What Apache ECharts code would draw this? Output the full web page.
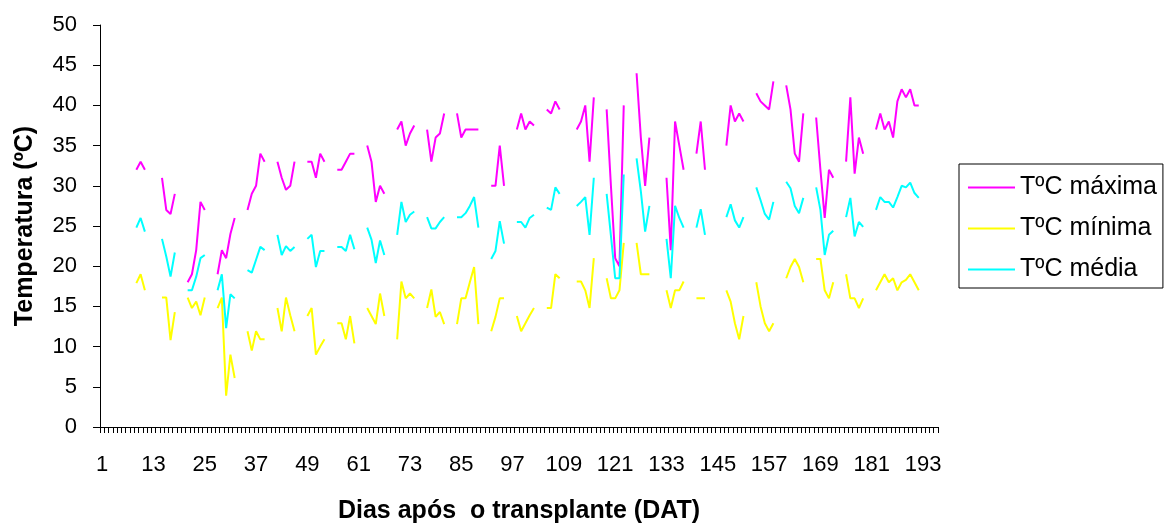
<!DOCTYPE html>
<html>
<head>
<meta charset="utf-8">
<script src="https://cdn.jsdelivr.net/npm/echarts@6/dist/echarts.min.js"></script>
<style>
  html, body { margin: 0; padding: 0; background: #fff; }
  #chart { width: 1166px; height: 524px; }
</style>
</head>
<body>
<div id="chart"></div>
<script>
const _ = null;

// Days after transplant (categories 1..196)
const days = Array.from({ length: 196 }, (v, i) => String(i + 1));

const seriesNames = ['TºC máxima', 'TºC mínima', 'TºC média'];

const tMaxima = [
  _,_,_,_,_,_,_,_,
  32,33,32,_,_,_,
  31,27,26.5,29,_,_,
  18,19,22,28,27,_,_,
  19,22,21,24,26,_,_,
  27,29,30,34,33,_,_,
  33,31,29.5,30,33,_,_,
  33,33,31,34,33,_,_,
  32,32,33,34,34,_,_,
  35,33,28,30,29,_,_,
  37,38,35,36.5,37.5,_,_,
  37,33,36,36.5,39,_,_,
  39,36,37,37,37,37,_,_,
  30,30,35,30,_,_,
  37,39,37,38,37.5,_,_,
  39.5,39,40.5,39.5,_,_,_,
  37,38,40,33,41,_,_,
  39.5,30,21,20,40,_,_,
  44,36,30,36,_,_,_,
  31,22,38,35,32,_,_,
  34,38,32,_,_,_,_,
  35,40,38,39,38,_,_,
  41.5,40.5,40,39.5,43,_,_,
  42.5,39.5,34,33,39,_,_,
  38.5,32,26,32,31,_,_,
  33,41,31.5,36,34,_,_,
  37,39,37,38,36,40.5,42,41,42,40,40,
  _,_,_,_
];

const tMinima = [
  _,_,_,_,_,_,_,_,
  17.9,19,17,_,_,_,
  16.1,16.1,10.8,14.3,_,_,
  16.1,14.8,15.6,13.9,16.1,_,_,
  14.8,16.1,3.9,9,6.1,_,_,
  11.9,9.5,11.9,10.9,10.9,_,_,
  14.8,11.9,16.1,13.9,11.9,_,_,
  13.8,14.8,9,10,10.9,_,_,
  12.9,12.9,10.9,13.8,10.4,_,_,
  14.8,13.8,12.8,16.6,13.8,_,_,
  10.9,18.1,16,16.6,16,_,_,
  14.8,17.1,13.7,14.3,12.8,_,_,
  12.8,16,16,18,19.9,12.8,_,_,
  11.9,13.7,16,16,_,_,
  13.8,11.9,12.9,13.9,14.8,_,_,
  14.8,14.8,19,18.5,_,_,_,
  18.1,18.1,17,14.8,21,_,_,
  18.5,16,16,17,22.9,_,_,
  22.9,19,19,19,_,_,_,
  17,14.8,17,17,18.1,_,_,
  16,16,16,_,_,_,_,
  17,15.6,12.9,10.9,13.8,_,_,
  18,15,12.9,11.9,12.9,_,_,
  18.5,19.9,20.9,19.9,18,_,_,
  20.9,20.9,17,16,18,_,_,
  19,16,16,14.8,16,_,_,
  17,18,19,18,18.5,17,18,18.3,19,18,17,
  _,_,_,_
];

const tMedia = [
  _,_,_,_,_,_,_,_,
  24.8,26,24.3,_,_,_,
  23.4,21.2,18.7,21.7,_,_,
  17,17,18.7,21,21.4,_,_,
  17,19,12.3,16.5,16,_,_,
  19.5,19.2,20.8,22.4,22,_,_,
  23.9,21.4,22.5,21.9,22.4,_,_,
  23.4,23.9,19.9,21.9,21.9,_,_,
  22.4,22.4,21.9,23.9,22.1,_,_,
  24.8,23.3,20.4,23.2,21.4,_,_,
  23.9,28,25.5,26.4,26.8,_,_,
  26.1,24.7,24.7,25.5,26.1,_,_,
  26.1,26.1,26.6,27.5,28.6,24.8,_,_,
  20.9,21.9,25.6,22.8,_,_,
  25.5,25.5,24.8,26,26.4,_,_,
  27.3,27,29.8,29,_,_,_,
  27.5,28,28.6,23.9,31,_,_,
  29,23.8,18.5,18.5,31.4,_,_,
  33.4,29.3,24.3,27.5,_,_,_,
  23.4,18.5,27.5,26,24.8,_,_,
  24.8,27.1,23.9,_,_,_,_,
  26.1,27.7,25.7,24.8,26.1,_,_,
  29.8,28.2,26.5,25.8,28,_,_,
  30.5,29.7,27.5,26.6,28.5,_,_,
  29.8,27,21.4,23.9,24.4,_,_,
  26.1,28.5,23.7,25.5,24.9,_,_,
  27,28.6,28,28,27.3,28.6,30,29.8,30.4,29.1,28.5,
  _,_,_,_
];

const colors = ['#FF00FF', '#FFFF00', '#00FFFF'];
const FONT = "'Liberation Sans', Arial, sans-serif";

const chart = echarts.init(document.getElementById('chart'), null, { renderer: 'canvas' });

function lineSeries(name, data, color) {
  return {
    name: name,
    type: 'line',
    data: data,
    connectNulls: false,
    symbol: 'none',
    showSymbol: false,
    lineStyle: { color: color, width: 2 },
    itemStyle: { color: color },
    emphasis: { disabled: true },
    animation: false
  };
}

chart.setOption({
  animation: false,
  backgroundColor: '#ffffff',
  grid: {
    left: 100, right: 228, top: 25, bottom: 97,
    containLabel: false,
    outerBoundsMode: 'none'
  },
  legend: {
    orient: 'vertical',
    left: 959, top: 164,
    padding: [11, 6, 6, 9],
    itemGap: 16,
    itemWidth: 47,
    itemHeight: 2,
    icon: 'rect',
    borderColor: '#000000',
    borderWidth: 1,
    data: seriesNames,
    textStyle: { fontFamily: FONT, fontSize: 25, color: '#000000' }
  },
  xAxis: {
    type: 'category',
    data: days,
    boundaryGap: true,
    name: 'Dias após  o transplante (DAT)',
    nameLocation: 'middle',
    nameGap: 72,
    nameTextStyle: { fontFamily: FONT, fontSize: 25, fontWeight: 'bold', color: '#000000' },
    axisLine: { show: true, lineStyle: { color: '#000000', width: 1 } },
    axisTick: { show: true, interval: 0, length: 6, inside: false, lineStyle: { color: '#000000', width: 1 } },
    axisLabel: { interval: 11, margin: 27, fontFamily: FONT, fontSize: 22, color: '#000000' },
    splitLine: { show: false }
  },
  yAxis: {
    type: 'value',
    min: 0, max: 50, interval: 5,
    name: 'Temperatura (ºC)',
    nameLocation: 'middle',
    nameGap: 62,
    nameRotate: 90,
    nameTextStyle: { fontFamily: FONT, fontSize: 25, fontWeight: 'bold', color: '#000000' },
    axisLine: { show: true, lineStyle: { color: '#000000', width: 1 } },
    axisTick: { show: true, length: 7, inside: false, lineStyle: { color: '#000000', width: 1 } },
    axisLabel: { margin: 23, fontFamily: FONT, fontSize: 22, color: '#000000' },
    splitLine: { show: false }
  },
  series: [
    lineSeries(seriesNames[0], tMaxima, colors[0]),
    lineSeries(seriesNames[1], tMinima, colors[1]),
    lineSeries(seriesNames[2], tMedia, colors[2])
  ]
});
</script>
</body>
</html>
